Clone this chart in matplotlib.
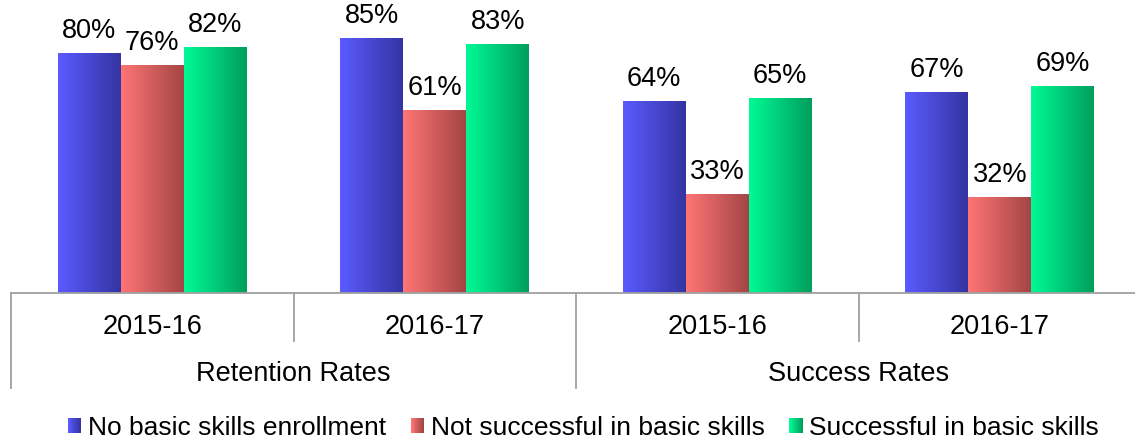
import numpy as np
import matplotlib
matplotlib.use("Agg")
import matplotlib.pyplot as plt
from matplotlib.colors import LinearSegmentedColormap, to_rgb
from matplotlib.patches import Patch, Rectangle
from matplotlib.legend_handler import HandlerBase
import matplotlib.transforms as mtransforms

plt.rcParams["font.family"] = ["Liberation Sans", "DejaVu Sans"]

# data
years = ["2015-16", "2016-17", "2015-16", "2016-17"]
groups = ["Retention Rates", "Success Rates"]
series = ["No basic skills enrollment", "Not successful in basic skills",
          "Successful in basic skills"]
no_basic = [80, 85, 64, 67]
not_successful = [76, 61, 33, 32]
successful = [82, 83, 65, 69]

# left (light) and right (dark) colour of each bar gradient
shades = [("#5b5bff", "#3434a3"), ("#ff7575", "#a44545"), ("#00fa96", "#009e5c")]
FS = 19.5


class GradientHandler(HandlerBase):
    def __init__(self, c0, c1, steps=14):
        super().__init__()
        self.c0, self.c1, self.steps = np.array(to_rgb(c0)), np.array(to_rgb(c1)), steps

    def create_artists(self, legend, orig_handle, xdescent, ydescent,
                       width, height, fontsize, trans):
        arts = []
        w = width / self.steps
        for i in range(self.steps):
            t = i / (self.steps - 1)
            c = self.c0 * (1 - t) + self.c1 * t
            arts.append(Rectangle((-xdescent + i * w, -ydescent), w * 1.05, height,
                                  facecolor=c, edgecolor="none", transform=trans))
        return arts


fig = plt.figure(figsize=(11.35, 4.4), dpi=100)
ax = fig.add_axes([11 / 1135, 1 - 293 / 440, 1130 / 1135, 293 / 440])

x = np.arange(len(years))
w = 0.223
grad = np.linspace(0, 1, 256).reshape(1, -1)

for k, vals in enumerate([no_basic, not_successful, successful]):
    bars = ax.bar(x + (k - 1) * w, vals, w, color="none", edgecolor="none")
    cmap = LinearSegmentedColormap.from_list("g%d" % k, shades[k])
    for b, v in zip(bars, vals):
        ax.imshow(grad, cmap=cmap, aspect="auto", zorder=2,
                  extent=[b.get_x(), b.get_x() + b.get_width(), 0, b.get_height()])
        ax.annotate("%d%%" % v, (b.get_x() + b.get_width() / 2, b.get_height()),
                    xytext=(0, 11), textcoords="offset points",
                    ha="center", va="baseline", fontsize=FS)

ax.set_xlim(-0.5, 3.5)
ax.set_ylim(0, 97.67)

for s in ["top", "right", "left"]:
    ax.spines[s].set_visible(False)
ax.spines["bottom"].set_color("#a0a0a0")
ax.spines["bottom"].set_linewidth(1.3)
ax.set_yticks([])
ax.set_xticks(x)
ax.set_xticklabels(years, fontsize=FS)
ax.tick_params(axis="x", length=0, pad=15)

# category dividers and group labels under the axis
tr = mtransforms.blended_transform_factory(ax.transData, ax.transAxes)
for xd in [-0.5, 0.5, 1.5, 2.5, 3.5]:
    low = -0.324 if xd in (-0.5, 1.5, 3.5) else -0.164
    ax.plot([xd, xd], [0, low], color="#a0a0a0", lw=1.3, transform=tr, clip_on=False)
for gi, g in enumerate(groups):
    ax.text(0.5 + 2 * gi, -0.278, g, transform=tr, ha="center", va="center", fontsize=FS)

handles = [Patch(label=s) for s in series]
hmap = {h: GradientHandler(*shades[i]) for i, h in enumerate(handles)}
fig.legend(handles=handles, handler_map=hmap, loc="center", ncol=3,
           bbox_to_anchor=(0.514, 12 / 440), frameon=False, fontsize=19,
           handlelength=0.5, handleheight=0.5, handletextpad=0.25,
           columnspacing=0.95, borderpad=0)

fig.savefig("out.png", dpi=100)
